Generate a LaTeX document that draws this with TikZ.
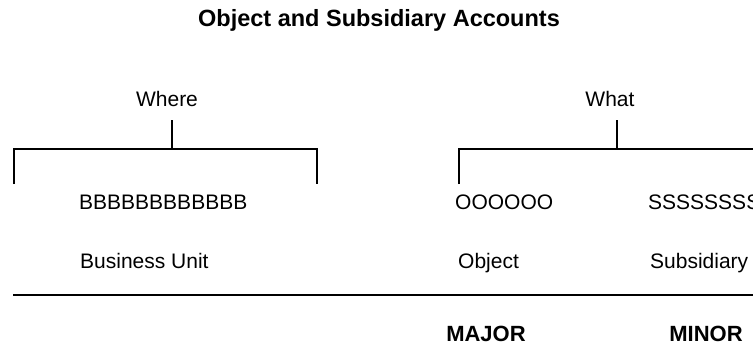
\documentclass[tikz,border=0pt]{standalone}
\usepackage{fontspec}
\setmainfont{Liberation Sans}
\newcommand{\labelsize}{\fontsize{21}{25}\selectfont}
\newcommand{\levelsize}{\fontsize{22}{26}\selectfont\bfseries}
\newcommand{\titlesize}{\fontsize{23.5}{28}\selectfont\bfseries}

\begin{document}
\begin{tikzpicture}[x=1pt,y=-1pt]
	\tikzstyle{bar}=[line width=2.5pt]
	\tikzstyle{lbl}=[inner sep=0pt, anchor=base west, font=\labelsize]
	\tikzstyle{mid}=[inner sep=0pt, anchor=base, font=\labelsize]
	\tikzstyle{level}=[inner sep=0pt, anchor=base, font=\levelsize]
	\tikzstyle{head}=[inner sep=0pt, anchor=base, font=\titlesize]
	
	\clip (0,0) rectangle (753,346);
	
	\node[head] at (379,26) (title) {Object and Subsidiary Accounts};
	
	\node[mid] at (167,106) (where) {Where};
	\node[mid] at (610,106) (what) {What};
	
	\node[lbl] at (79,209) (bu) {BBBBBBBBBBBB};
	\node[lbl] at (80,268) (bulbl) {Business Unit};
	
	\node[lbl] at (455,209) (obj) {OOOOOO};
	\node[lbl] at (458,268) (objlbl) {Object};
	
	\node[lbl] at (648,209) (sub) {SSSSSSSS};
	\node[lbl] at (650,268) (sublbl) {Subsidiary};
	
	\node[level] at (486,341) (major) {MAJOR};
	\node[level] at (706,341) (minor) {MINOR};
	
	\coordinate (wtop) at (172,120);
	\coordinate (wjoin) at (172,149);
	\coordinate (wl) at (14,149);
	\coordinate (wr) at (317,149);
	\coordinate (wlend) at (14,184);
	\coordinate (wrend) at (317,184);
	
	\coordinate (ttop) at (617,120);
	\coordinate (tjoin) at (617,149);
	\coordinate (tl) at (459,149);
	\coordinate (tr) at (760,149);
	\coordinate (tlend) at (459,184);
	
	\coordinate (rulel) at (13,295);
	\coordinate (ruler) at (760,295);
	
	\draw[bar] (wtop) -- (wjoin);
	\draw[bar] (wlend) -- (wl) -- (wr) -- (wrend);
	
	\draw[bar] (ttop) -- (tjoin);
	\draw[bar] (tlend) -- (tl) -- (tr);
	
	\draw[bar] (rulel) -- (ruler);
\end{tikzpicture}
\end{document}
